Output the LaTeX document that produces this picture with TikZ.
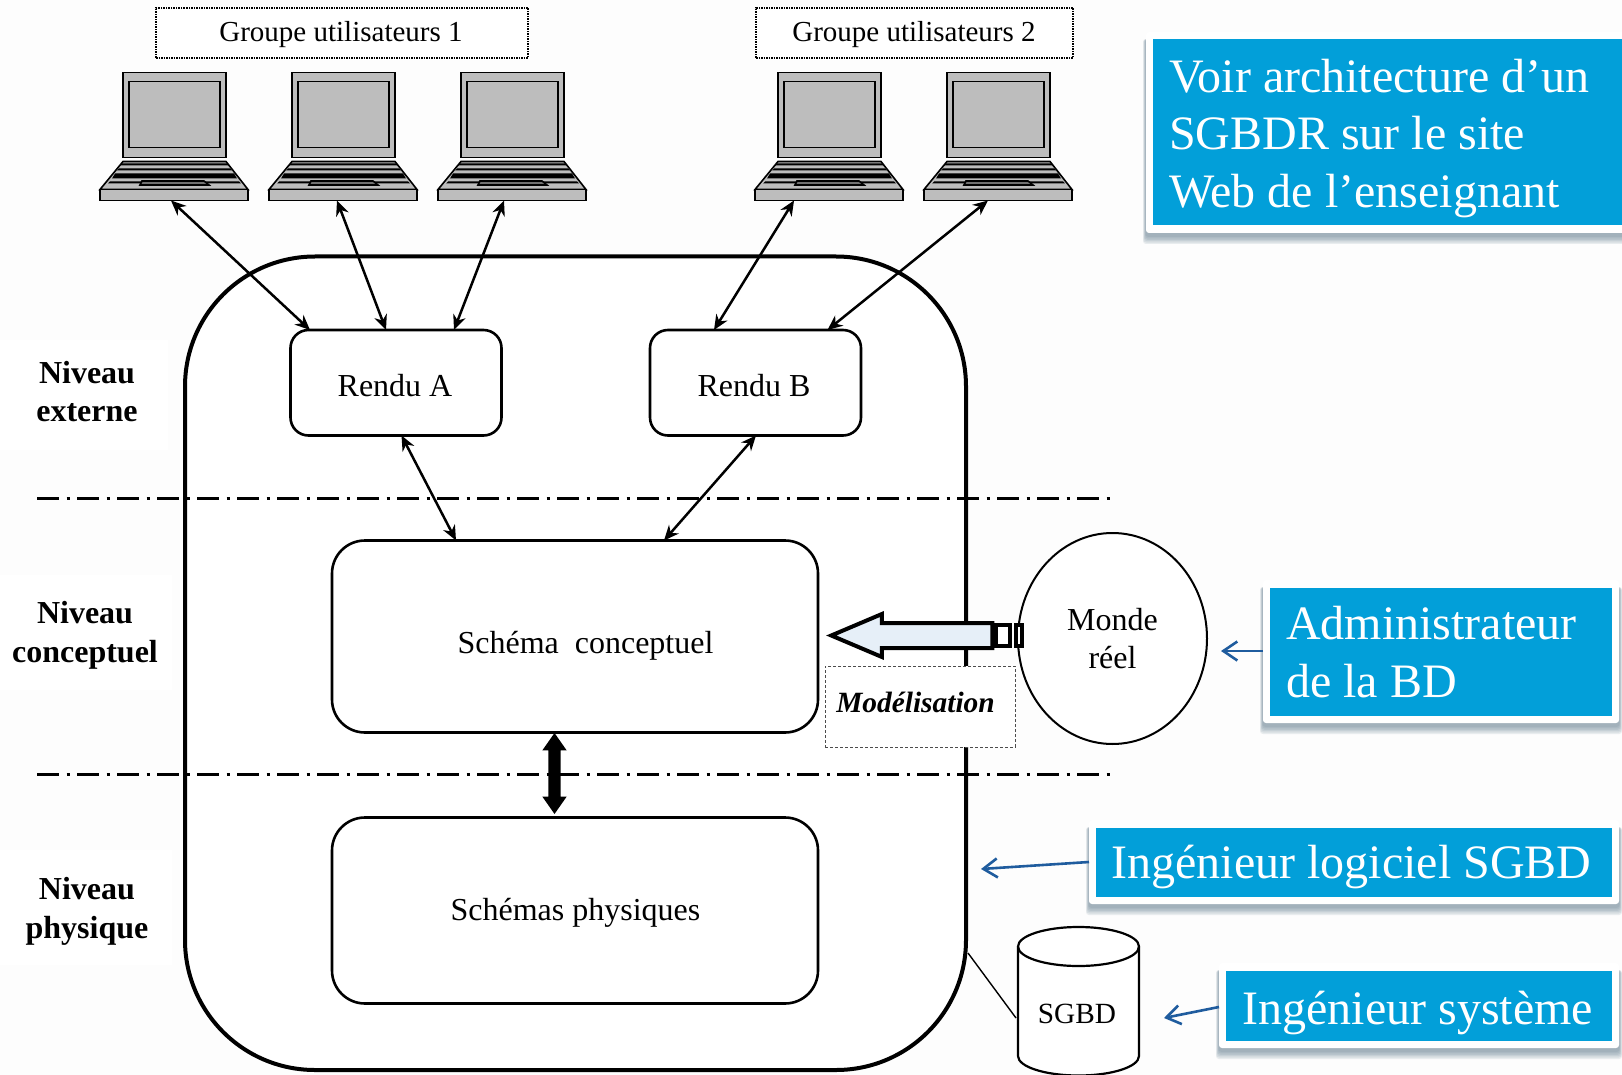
\documentclass[tikz,border=0pt]{standalone}
\usepackage{fontspec}
\setmainfont{Liberation Serif}
\usetikzlibrary{arrows.meta,shapes.geometric,shapes.arrows,fit,calc}
\definecolor{calloutblue}{HTML}{029FD9}
\definecolor{callarrow}{HTML}{1F5C9E}
\definecolor{shadowc}{HTML}{5F7A8C}
\definecolor{bgc}{HTML}{FDFDFD}
\definecolor{lapgray}{HTML}{BDBDBD}
\definecolor{arrowfill}{HTML}{E6EFF8}
\tikzset{
  groupbox/.style={draw,densely dotted,line width=1.5pt,fill=white,inner sep=0,outer sep=0},
  renderbox/.style={draw,rounded corners=18pt,line width=2.6pt,fill=white,inner sep=0,outer sep=0,minimum width=211pt,minimum height=105.5pt},
  schemabox/.style={draw,rounded corners=33pt,line width=2.6pt,fill=white,inner sep=0,outer sep=0,minimum width=486pt},
  conn/.style={line width=2.5pt,{Stealth[length=15pt,width=13pt]}-{Stealth[length=15pt,width=13pt]}},
  callconn/.style={line width=2.6pt,callarrow,-{Straight Barb[length=14pt,width=19pt,line width=2.6pt]}},
  levellabel/.style={font=\fontsize{32}{38.5}\selectfont\bfseries,align=center,inner sep=0},
  blabel/.style={font=\fontsize{32}{38.5}\selectfont,align=center,inner sep=0},
  calltext/.style={font=\fontsize{48}{57.5}\selectfont,text=white,inner sep=0,align=left},
  dashline/.style={line width=3pt,dash pattern=on 22pt off 7.5pt on 3pt off 7.5pt},
  framebox/.style={fill=white,rounded corners=3pt,inner sep=0,outer sep=0},
  bluebox/.style={fill=calloutblue,inner sep=0,outer sep=0},
  laptop/.pic={
    \draw[line width=1.6pt,fill=lapgray] (0,0) rectangle (103,85);
    \draw[line width=1.6pt,fill=lapgray] (6,9) rectangle (97,75);
    \draw[line width=1.6pt,fill=lapgray] (0,89) -- (103,89) -- (125,117) -- (-23,117) -- cycle;
    \fill (-1,91) -- (104,91) -- (106,93) -- (-3,93) -- cycle;
    \fill (-4,96) -- (107,96) -- (109,98) -- (-6,98) -- cycle;
    \fill (-8,101) -- (111,101) -- (114,106) -- (-11,106) -- cycle;
    \fill (-13,109) -- (116,109) -- (118,111) -- (-15,111) -- cycle;
    \draw[line width=1.6pt,fill=lapgray!60!black] (19,108.5) -- (81,108.5) -- (86,112.5) -- (17,112.5) -- cycle;
    \node[draw,line width=1.6pt,fill=lapgray,inner sep=0,outer sep=0,minimum width=148pt,minimum height=11pt,anchor=north west] (base) at (-23,117) {};
  }
}
\newcommand{\callbox}[5]{%
  \foreach \sk in {0,1,2,3,4,5}{
    \fill[shadowc,opacity=.13,rounded corners=3pt] ({#2-3+\sk*.5},{#3+7}) rectangle ({#4+3-\sk*.5},{#5+11-\sk*1.4});
  }
  \coordinate (#1a) at (#2,#3);
  \coordinate (#1b) at (#4,#5);
  \coordinate (#1c) at ({#2+7},{#3+7.5});
  \coordinate (#1d) at ({min(#4-7,1622)},{#5-7.5});
  \node[framebox,fit=(#1a)(#1b)] (#1) {};
  \node[bluebox,fit=(#1c)(#1d)] (#1in) {};
}
\begin{document}
\begin{tikzpicture}[x=1pt,y=-1pt]
\useasboundingbox (0,0) rectangle (1622,1075);
\clip (0,0) rectangle (1622,1075);
\fill[bgc] (0,0) rectangle (1622,1075);

% white patches behind the level labels
\fill[white] (0,340) rectangle (168,450);
\fill[white] (0,575) rectangle (172,690);
\fill[white] (0,850) rectangle (172,965);

% user groups
\node[groupbox,minimum width=372pt,minimum height=50pt] (g1) at (342,33) {};
\node[font=\fontsize{29}{34}\selectfont,inner sep=0] (g1t) at (341,35) {Groupe utilisateurs 1};
\node[groupbox,minimum width=317pt,minimum height=50pt] (g2) at (914.5,33) {};
\node[font=\fontsize{29}{34}\selectfont,inner sep=0] (g2t) at (914,35) {Groupe utilisateurs 2};

% laptops
\pic (l1) at (123,72.5) {laptop};
\pic (l2) at (292,72.5) {laptop};
\pic (l3) at (461,72.5) {laptop};
\pic (l4) at (778,72.5) {laptop};
\pic (l5) at (947,72.5) {laptop};

% main rounded frame
\node[draw,rounded corners=130pt,line width=4pt,fill=white,inner sep=0,outer sep=0,minimum width=781pt,minimum height=813.5pt] (big) at (575.5,663.25) {};

% level separators
\coordinate (d1a) at (37,498.5);
\coordinate (d1b) at (1110,498.5);
\coordinate (d2a) at (37,774);
\coordinate (d2b) at (1110,774);
\draw[dashline] (d1a) -- (d1b);
\draw[dashline] (d2a) -- (d2b);

% inner boxes
\node[renderbox] (ra) at (396,382.75) {};
\node[font=\fontsize{32}{36}\selectfont,inner sep=0] (rat) at (395,386) {Rendu A};
\node[renderbox] (rb) at (755.5,382.75) {};
\node[font=\fontsize{32}{36}\selectfont,inner sep=0] (rbt) at (754,386) {Rendu B};
\node[schemabox,minimum height=192pt] (cs) at (575,636.5) {};
\node[font=\fontsize{32}{36}\selectfont,inner sep=0] (cst) at (585.5,646) {Schéma\ \ conceptuel};
\node[schemabox,minimum height=186pt] (ps) at (575,910.5) {};
\node[font=\fontsize{32}{36}\selectfont,inner sep=0] (pst) at (575.5,913) {Schémas physiques};

% connectors
\draw[conn] ([xshift=-3pt]l1base.south) -- ([xshift=-86pt]ra.north);
\draw[conn] ([xshift=-6pt]l2base.south) -- ([xshift=-10pt]ra.north);
\draw[conn] ([xshift=-8pt]l3base.south) -- ([xshift=58pt]ra.north);
\draw[conn] ([xshift=-35pt]l4base.south) -- ([xshift=-41.5pt]rb.north);
\draw[conn] ([xshift=-10pt]l5base.south) -- ([xshift=72pt]rb.north);
\draw[conn] ([xshift=5.5pt]ra.south) -- ([xshift=-119pt]cs.north);
\draw[conn] ([xshift=.5pt]rb.south) -- ([xshift=89pt]cs.north);

% thick double arrow
\node[double arrow,fill=black,rotate=90,inner sep=0,outer sep=0,minimum height=81pt,minimum width=24pt,double arrow head extend=6pt,double arrow tip angle=70] (da) at (554.5,773.5) {\rule{0pt}{12pt}};

% level labels
\node[levellabel] (n1) at (87,391.5) {Niveau\\externe};
\node[levellabel] (n2) at (85,635.5) {Niveau\\conceptuel};
\node[levellabel] (n3) at (87,911.5) {Niveau\\physique};

% modelisation
\node[draw=black!70,densely dashed,line width=.6pt,fill=white,inner sep=0,outer sep=0,minimum width=190pt,minimum height=81pt] (mod) at (920,706.5) {};
\node[font=\fontsize{29.4}{34}\selectfont\bfseries\itshape,inner sep=0] (modt) at (915.5,702.5) {Modélisation};

% real world
\node[draw,ellipse,line width=2pt,fill=white,inner sep=0,outer sep=0,minimum width=189pt,minimum height=211pt] (mr) at (1112.5,638.5) {};
\node[blabel] (mrt) at (1112.5,638.5) {Monde\\réel};

% modelling arrow
\node[single arrow,draw,line width=4pt,fill=arrowfill,rotate=180,inner sep=0,outer sep=0,minimum height=161pt,minimum width=39pt,single arrow head extend=9pt,single arrow tip angle=46] (ma) at (926.5,635.5) {\rule{0pt}{21pt}};
\node[draw,line width=4pt,fill=white,inner sep=0,outer sep=0,minimum width=14pt,minimum height=21pt] (st1) at (1002.5,635.5) {};
\node[draw,line width=4pt,fill=white,inner sep=0,outer sep=0,minimum width=6pt,minimum height=21pt] (st2) at (1018.5,635.5) {};

% DBMS cylinder
\draw[line width=2.2pt,fill=white] (1018,946.5) -- (1018,1056) arc[start angle=180,end angle=0,x radius=60.5,y radius=19.5] -- (1139,946.5) arc[start angle=0,end angle=-180,x radius=60.5,y radius=19.5] -- cycle;
\draw[line width=2.2pt] (1018,946.5) arc[start angle=180,end angle=0,x radius=60.5,y radius=19.5];
\node[font=\fontsize{29.3}{34}\selectfont,inner sep=0] (db) at (1077,1014) {SGBD};
\coordinate (bgl) at (968,953);
\coordinate (dbl) at (1016,1018);
\draw[line width=1.4pt] (bgl) -- (dbl);

% callouts
\callbox{c1}{1146}{32}{1640}{233}
\node[calltext,anchor=west] (c1t) at (1169,138.5) {Voir architecture d’un\\SGBDR sur le site\\Web de l’enseignant};
\callbox{c2}{1263}{580}{1619}{723}
\node[calltext,anchor=west] (c2t) at (1286,652) {Administrateur\\de la BD};
\callbox{c3}{1089}{820}{1619}{904}
\node[calltext,text=white] (c3t) at (1351.5,867) {Ingénieur logiciel SGBD};
\callbox{c4}{1219}{963}{1619}{1048}
\node[calltext,text=white] (c4t) at (1417.7,1012.5) {Ingénieur système};

% callout arrows
\coordinate (t2) at (1221,651);
\coordinate (t3) at (981,869);
\coordinate (t4) at (1164,1018);
\coordinate (f2) at (1263,651);
\coordinate (f3) at (1089,862);
\coordinate (f4) at (1219,1007);
\draw[callconn] (f2) -- (t2);
\draw[callconn] (f3) -- (t3);
\draw[callconn] (f4) -- (t4);
\end{tikzpicture}
\end{document}
